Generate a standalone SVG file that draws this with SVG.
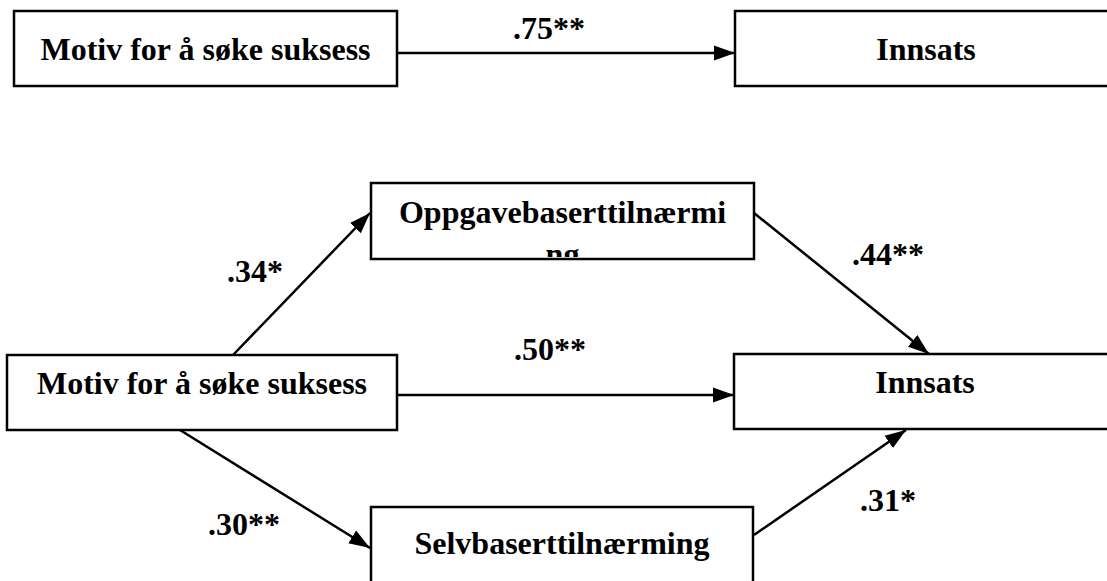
<svg xmlns="http://www.w3.org/2000/svg" width="1107" height="581" viewBox="0 0 1107 581">
<style>
.box{fill:#fff;stroke:#000;stroke-width:2.5}
text{font-family:'Liberation Serif','Times New Roman','DejaVu Serif',serif;font-weight:bold;font-size:32px;fill:#000}
.ctr{text-anchor:middle}
.con{stroke:#000;stroke-width:2.5;fill:none;marker-end:url(#ah)}
</style>
<defs>
<marker id="ah" markerUnits="userSpaceOnUse" markerWidth="24" markerHeight="20" viewBox="0 0 24 20" refX="21" refY="10" orient="auto">
<path d="M0,2.5 L21,10 L0,17.5 Z" fill="#000"/>
</marker>
<clipPath id="clipOpp"><rect x="372" y="184" width="381" height="73"/></clipPath>
</defs>
<rect width="1107" height="581" fill="#fff"/>
<g id="connectors">
<line class="con" x1="397" y1="53" x2="735" y2="53"/>
<line class="con" x1="233" y1="355" x2="370" y2="213"/>
<line class="con" x1="754" y1="213" x2="929" y2="354"/>
<line class="con" x1="397" y1="395" x2="734" y2="395"/>
<line class="con" x1="180" y1="430" x2="370" y2="548"/>
<line class="con" x1="754" y1="535" x2="906" y2="430"/>
</g>
<g id="labels">
<text x="513" y="39">.75**</text>
<text x="227" y="282">.34*</text>
<text x="852" y="265">.44**</text>
<text x="514" y="360">.50**</text>
<text x="208" y="535">.30**</text>
<text x="860" y="511">.31*</text>
</g>
<g id="n-motiv-top">
<rect class="box" x="14" y="11" width="383" height="75"/>
<text class="ctr" x="205.5" y="60">Motiv for å søke suksess</text>
</g>
<g id="n-innsats-top">
<rect class="box" x="735" y="11" width="383" height="75"/>
<text class="ctr" x="926" y="60">Innsats</text>
</g>
<g id="n-oppgave">
<rect class="box" x="371" y="183" width="383" height="76"/>
<text class="ctr" clip-path="url(#clipOpp)" x="562.5" y="223">Oppgavebaserttilnærmi<tspan x="562.5" y="265">ng</tspan></text>
</g>
<g id="n-motiv-mid">
<rect class="box" x="7" y="355" width="390" height="75"/>
<text class="ctr" x="202" y="394">Motiv for å søke suksess</text>
</g>
<g id="n-innsats-mid">
<rect class="box" x="734" y="354" width="383" height="75"/>
<text class="ctr" x="925" y="393">Innsats</text>
</g>
<g id="n-selv">
<rect class="box" x="371" y="507" width="382" height="80"/>
<text class="ctr" x="562" y="554">Selvbaserttilnærming</text>
</g>
</svg>
